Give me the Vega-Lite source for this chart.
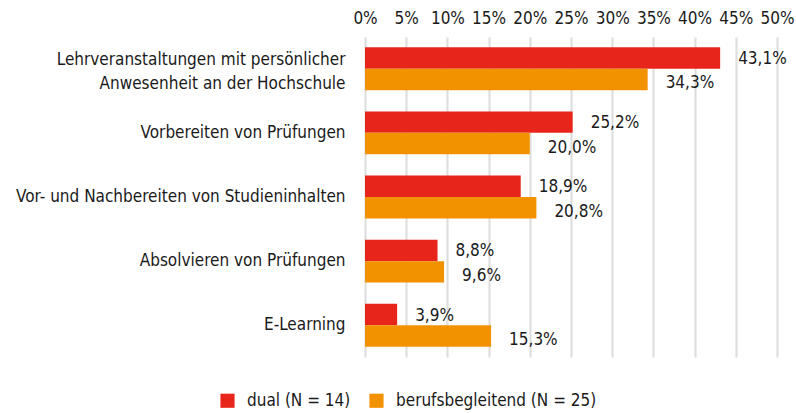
{
  "$schema": "https://vega.github.io/schema/vega-lite/v6.json",
  "width": 412,
  "height": 320,
  "autosize": {"type": "none"},
  "padding": {"left": 365, "top": 37, "right": 19, "bottom": 56},
  "background": "white",
  "config": {
    "locale": {"number": {"decimal": ",", "thousands": ".", "grouping": [3], "currency": ["", " €"]}},
    "font": "DejaVu Sans Condensed",
    "view": {"stroke": null}
  },
  "data": {
    "values": [
      {"cat": "Lehrveranstaltungen mit persönlicher|Anwesenheit an der Hochschule", "group": "dual (N = 14)", "value": 0.431},
      {"cat": "Lehrveranstaltungen mit persönlicher|Anwesenheit an der Hochschule", "group": "berufsbegleitend (N = 25)", "value": 0.343},
      {"cat": "Vorbereiten von Prüfungen", "group": "dual (N = 14)", "value": 0.252},
      {"cat": "Vorbereiten von Prüfungen", "group": "berufsbegleitend (N = 25)", "value": 0.200},
      {"cat": "Vor- und Nachbereiten von Studieninhalten", "group": "dual (N = 14)", "value": 0.189},
      {"cat": "Vor- und Nachbereiten von Studieninhalten", "group": "berufsbegleitend (N = 25)", "value": 0.208},
      {"cat": "Absolvieren von Prüfungen", "group": "dual (N = 14)", "value": 0.088},
      {"cat": "Absolvieren von Prüfungen", "group": "berufsbegleitend (N = 25)", "value": 0.096},
      {"cat": "E-Learning", "group": "dual (N = 14)", "value": 0.039},
      {"cat": "E-Learning", "group": "berufsbegleitend (N = 25)", "value": 0.153}
    ]
  },
  "encoding": {
    "y": {
      "field": "cat", "type": "nominal", "sort": null,
      "scale": {"paddingInner": 0.33, "paddingOuter": 0.16},
      "axis": {
        "title": null, "ticks": false, "domain": false, "labelPadding": 20,
        "labelFontSize": 17, "labelColor": "#1a1a1a", "labelLineHeight": 24,
        "labelOffset": {"condition": {"test": "indexof(datum.value, '|') >= 0", "value": -9}, "value": 0},
        "labelExpr": "split(datum.label, '|')", "labelLimit": 400
      }
    },
    "yOffset": {"field": "group", "type": "nominal", "sort": ["dual (N = 14)", "berufsbegleitend (N = 25)"], "scale": {"paddingInner": 0, "paddingOuter": 0}},
    "x": {
      "field": "value", "type": "quantitative",
      "scale": {"domain": [0, 0.5], "nice": false},
      "axis": {
        "orient": "top", "title": null, "format": ".0%", "values": [0, 0.05, 0.1, 0.15, 0.2, 0.25, 0.3, 0.35, 0.4, 0.45, 0.5],
        "labelOverlap": false, "labelBound": false, "labelFlush": false,
        "ticks": false, "domain": false, "labelPadding": 10, "labelFontSize": 17, "labelColor": "#1a1a1a",
        "grid": true, "gridColor": "#dcdcdc", "gridWidth": 2
      }
    }
  },
  "layer": [
    {
      "mark": {"type": "bar"},
      "encoding": {
        "color": {
          "field": "group", "type": "nominal", "sort": ["dual (N = 14)", "berufsbegleitend (N = 25)"],
          "scale": {"domain": ["dual (N = 14)", "berufsbegleitend (N = 25)"], "range": ["#e8251b", "#f39200"]},
          "legend": {
            "title": null, "orient": "none", "direction": "horizontal", "legendX": -146, "legendY": 355,
            "symbolType": "square", "symbolSize": 200, "symbolStrokeWidth": 0, "symbolOpacity": 1,
            "labelFontSize": 17, "labelColor": "#1a1a1a", "columnPadding": 17, "labelOffset": 11, "padding": 0, "labelLimit": 300
          }
        }
      }
    },
    {
      "transform": [{"filter": "datum.group == 'dual (N = 14)'"}],
      "mark": {"type": "text", "align": "left", "dx": 18, "dy": 1, "fontSize": 17, "color": "#1a1a1a"},
      "encoding": {"text": {"field": "value", "type": "quantitative", "format": ".1%"}}
    },
    {
      "transform": [{"filter": "datum.group != 'dual (N = 14)'"}],
      "mark": {"type": "text", "align": "left", "dx": 18, "dy": 4, "fontSize": 17, "color": "#1a1a1a"},
      "encoding": {"text": {"field": "value", "type": "quantitative", "format": ".1%"}}
    }
  ]
}
